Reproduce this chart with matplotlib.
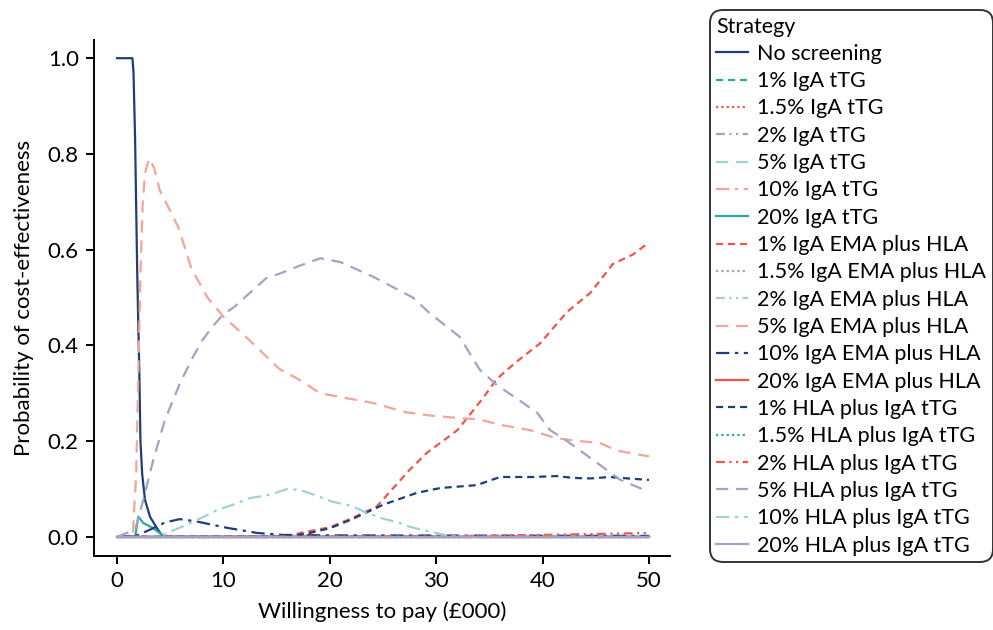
# cost-effectiveness acceptability curves, 19 screening strategies
import matplotlib
matplotlib.use('Agg')
from matplotlib import pyplot as plt

plt.rcParams['font.family'] = ['Lato', 'DejaVu Sans']

# colours
navy = '#1d3e7b'
teal = '#2aa8a8'
red = '#ee5748'
lavender = '#a3a2c9'
lteal = '#9fd2d5'
salmon = '#f5a498'

# line styles (dash patterns, in units of line width)
solid = '-'
dash = (0, (3.2, 2.2))
dot = (0, (1.0, 1.4))
dashdot = (0, (4, 2, 1, 2, 1, 2))
longdash = (0, (5.5, 3.5))
longdashdot = (0, (6, 2.5, 1.5, 2.5))

# data: willingness to pay (GBP 000) and probability cost-effective
x_none = [0, 1.45, 1.55, 1.7, 1.9, 2.1, 2.2, 2.37, 2.63, 3.1, 3.7, 4.3, 50]
y_none = [1.0, 1.0, 0.97, 0.83, 0.55, 0.34, 0.2, 0.13, 0.077, 0.042, 0.02,
          0.0, 0.0]

x_zero = [0, 50]
y_zero = [0, 0]

x_tt20 = [0, 1.7, 2.0, 2.47, 3.4, 4.0, 4.6, 50]
y_tt20 = [0, 0, 0.042, 0.029, 0.018, 0.008, 0.0, 0.0]

x_ema1 = [0, 16, 17.2, 20, 22, 24.4, 27.5, 29.1, 32, 34.4, 35.7, 37.5, 39.8,
          42.3, 44.5, 46.6, 48.5, 50]
y_ema1 = [0, 0, 0.008, 0.02, 0.038, 0.063, 0.14, 0.175, 0.223, 0.29, 0.33,
          0.365, 0.405, 0.47, 0.51, 0.57, 0.59, 0.615]

x_ema5 = [0, 1.47, 1.8, 2.0, 2.2, 2.4, 2.63, 3.03, 3.5, 4.0, 5.76, 7, 8.5,
          10, 12, 15.3, 17, 19.1, 21.5, 24, 27.2, 30, 34.1, 36, 38.8, 41.3,
          43.5, 45.4, 47, 50]
y_ema5 = [0, 0, 0.13, 0.34, 0.55, 0.69, 0.76, 0.79, 0.77, 0.725, 0.647, 0.56,
          0.5, 0.46, 0.42, 0.35, 0.33, 0.30, 0.29, 0.28, 0.26, 0.252, 0.245,
          0.234, 0.223, 0.206, 0.2, 0.196, 0.18, 0.168]

x_ema10 = [0, 1.9, 3.4, 4.5, 5.9, 7.5, 10.3, 13.2, 15.6, 20, 50]
y_ema10 = [0, 0.003, 0.018, 0.03, 0.037, 0.032, 0.019, 0.008, 0.004, 0.003,
           0.002]

x_hla1 = [0, 16, 18.1, 20, 21.9, 25, 28.2, 30.4, 33.8, 36, 39.1, 41.3, 42.9,
          44.5, 46.3, 48, 50]
y_hla1 = [0, 0, 0.008, 0.018, 0.035, 0.067, 0.092, 0.102, 0.108, 0.125,
          0.125, 0.127, 0.123, 0.122, 0.125, 0.122, 0.119]

x_hla2 = [0, 30, 40, 50]
y_hla2 = [0, 0.001, 0.004, 0.008]

x_hla5 = [0, 1.7, 2.47, 3.4, 4.5, 5.9, 7, 8, 9, 10, 11, 12, 13, 14, 15.3,
          17, 19.1, 21, 24.1, 27.8, 29.4, 32.2, 34.1, 35.7, 37.5, 39.5, 40.7,
          42.3, 45.4, 47.3, 49.9]
y_hla5 = [0, 0.015, 0.077, 0.16, 0.244, 0.32, 0.37, 0.41, 0.44, 0.465,
          0.48, 0.5, 0.52, 0.54, 0.55, 0.565, 0.582, 0.574, 0.543, 0.50,
          0.467, 0.418, 0.349, 0.317, 0.29, 0.259, 0.223, 0.20, 0.15, 0.119,
          0.095]

x_hla10 = [0, 4.0, 4.7, 6, 7.5, 9.4, 10.9, 12.5, 14.4, 16, 17.2, 18.5, 20.3,
           22, 23.5, 25, 26.6, 27.5, 29, 30.6, 32, 50]
y_hla10 = [0, 0, 0.008, 0.02, 0.035, 0.056, 0.067, 0.081, 0.088, 0.10, 0.098,
           0.088, 0.073, 0.065, 0.05, 0.038, 0.029, 0.021, 0.013, 0.005, 0.0,
           0.0]

# (label, x, y, colour, style) in legend order
series = [
    ('No screening', x_none, y_none, navy, solid),
    ('1% IgA tTG', x_zero, y_zero, teal, dash),
    ('1.5% IgA tTG', x_zero, y_zero, red, dot),
    ('2% IgA tTG', x_zero, y_zero, lavender, dashdot),
    ('5% IgA tTG', x_zero, y_zero, lteal, longdash),
    ('10% IgA tTG', x_zero, y_zero, salmon, longdashdot),
    ('20% IgA tTG', x_tt20, y_tt20, teal, solid),
    ('1% IgA EMA plus HLA', x_ema1, y_ema1, red, dash),
    ('1.5% IgA EMA plus HLA', x_zero, y_zero, lavender, dot),
    ('2% IgA EMA plus HLA', x_zero, y_zero, lteal, dashdot),
    ('5% IgA EMA plus HLA', x_ema5, y_ema5, salmon, longdash),
    ('10% IgA EMA plus HLA', x_ema10, y_ema10, navy, longdashdot),
    ('20% IgA EMA plus HLA', x_zero, y_zero, red, solid),
    ('1% HLA plus IgA tTG', x_hla1, y_hla1, navy, dash),
    ('1.5% HLA plus IgA tTG', x_zero, y_zero, teal, dot),
    ('2% HLA plus IgA tTG', x_hla2, y_hla2, red, dashdot),
    ('5% HLA plus IgA tTG', x_hla5, y_hla5, lavender, longdash),
    ('10% HLA plus IgA tTG', x_hla10, y_hla10, lteal, longdashdot),
    ('20% HLA plus IgA tTG', x_zero, y_zero, lavender, solid),
]

fig = plt.figure(figsize=(9.93, 6.3), dpi=100)
ax = fig.add_axes([0.0947, 0.1175, 0.58, 0.819])

for label, xs, ys, col, ls in series:
    ax.plot(xs, ys, color=col, linestyle=ls, linewidth=1.6, label=label)

ax.set_xlim(-2.16, 51.97)
ax.set_ylim(-0.04, 1.038)
ax.set_xticks([0, 10, 20, 30, 40, 50])
ax.set_yticks([0.0, 0.2, 0.4, 0.6, 0.8, 1.0])
ax.set_yticklabels(['0.0', '0.2', '0.4', '0.6', '0.8', '1.0'])
ax.spines['top'].set_visible(False)
ax.spines['right'].set_visible(False)
for s in ('left', 'bottom'):
    ax.spines[s].set_linewidth(1.4)
ax.tick_params(direction='out', length=6, width=1.4, labelsize=16, pad=5)

ax.set_xlabel('Willingness to pay (£000)', fontsize=16, labelpad=7)
ax.set_ylabel('Probability of cost-effectiveness', fontsize=16, labelpad=10)

leg = fig.legend(loc='upper left', bbox_to_anchor=(0.715, 0.984),
                 title='Strategy', fontsize=15.5, title_fontsize=15.5,
                 alignment='left', handlelength=1.45, handletextpad=0.45,
                 labelspacing=0.34, borderpad=0.3, borderaxespad=0,
                 frameon=True, fancybox=True)
frame = leg.get_frame()
frame.set_edgecolor('black')
frame.set_linewidth(1.4)
frame.set_boxstyle('round', pad=0, rounding_size=0.6)

plt.savefig('out.png', dpi=100)
